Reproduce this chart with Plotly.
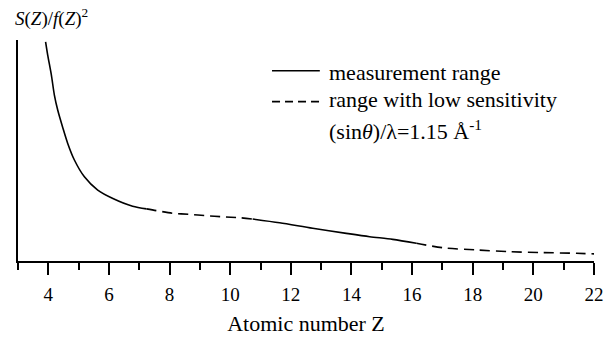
import plotly.graph_objects as go

# Data (y in arbitrary units, axis 0..10)
z_solid1 = [3.91, 3.98, 4.10, 4.20, 4.31, 4.48, 4.64, 4.86, 5.19, 5.63, 6.13, 6.78, 7.24]
s_solid1 = [9.92, 9.32, 8.42, 7.51, 6.83, 6.02, 5.32, 4.57, 3.81, 3.21, 2.83, 2.48, 2.36]

z_dash1 = [7.24, 7.56, 8.10, 8.66, 9.21, 9.75, 10.31, 10.74]
s_dash1 = [2.36, 2.28, 2.16, 2.11, 2.05, 2.00, 1.96, 1.90]

z_solid2 = [10.74, 11.63, 12.72, 13.83, 14.60, 15.36, 16.14]
s_solid2 = [1.90, 1.73, 1.48, 1.25, 1.10, 0.98, 0.80]

z_dash2 = [16.14, 17.01, 18.12, 19.22, 20.31, 21.42, 22.03]
s_dash2 = [0.80, 0.60, 0.50, 0.42, 0.38, 0.35, 0.32]

x_ticks = [4, 6, 8, 10, 12, 14, 16, 18, 20, 22]

FONT = "Liberation Serif"

fig = go.Figure()
for zs, ss, dash in [(z_solid1, s_solid1, "solid"), (z_dash1, s_dash1, "10px,6px"),
                     (z_solid2, s_solid2, "solid"), (z_dash2, s_dash2, "10px,6px")]:
    fig.add_trace(go.Scatter(x=zs, y=ss, mode="lines",
                             line=dict(color="black", width=1.6, dash=dash, shape="spline", smoothing=0.8),
                             showlegend=False, hoverinfo="skip", cliponaxis=False))

fig.update_layout(
    width=612, height=338,
    margin=dict(l=18, r=18, t=40, b=77),
    paper_bgcolor="white", plot_bgcolor="white",
    font=dict(family=FONT, color="black", size=19),
    xaxis=dict(range=[3, 22], tickvals=x_ticks, ticks="outside", ticklen=12, tickwidth=2,
               tickcolor="black", showline=True, linecolor="black", linewidth=2,
               showgrid=False, zeroline=False, tickfont=dict(size=19, family=FONT),
               ticklabelstandoff=3, automargin=False,
               minor=dict(dtick=1, tick0=3, ticks="outside", ticklen=7, tickwidth=2, tickcolor="black", showgrid=False),
               title=dict(text="Atomic number Z", font=dict(size=22, family=FONT), standoff=12)),
    yaxis=dict(range=[0, 10], showticklabels=False, ticks="", showline=True, linecolor="black",
               linewidth=2, showgrid=False, zeroline=False, automargin=False),
)

# y-axis label
fig.add_annotation(xref="paper", yref="paper", x=-0.008, y=1.10, xanchor="left", yanchor="middle",
                   text="<i>S</i>(<i>Z</i>)/<i>f</i>(<i>Z</i>)<sup>2</sup>", showarrow=False,
                   font=dict(size=19, family=FONT))

# legend
fig.add_shape(type="line", xref="paper", yref="paper", x0=0.441, x1=0.524, y0=0.861, y1=0.861,
              line=dict(color="black", width=1.6))
fig.add_shape(type="line", xref="paper", yref="paper", x0=0.441, x1=0.524, y0=0.721, y1=0.721,
              line=dict(color="black", width=1.6, dash="8px,5px"))
for txt, yy in [("measurement range", 0.853), ("range with low sensitivity", 0.729),
                ("(sin<i>θ</i>)/λ=1.15 Å<sup>-1</sup>", 0.593)]:
    fig.add_annotation(xref="paper", yref="paper", x=0.536, y=yy, xanchor="left", yanchor="middle",
                       text=txt, showarrow=False, font=dict(size=22, family=FONT))

fig.write_html("out.html", config={"displayModeBar": False},
               post_script="document.body.style.margin='0px';")
